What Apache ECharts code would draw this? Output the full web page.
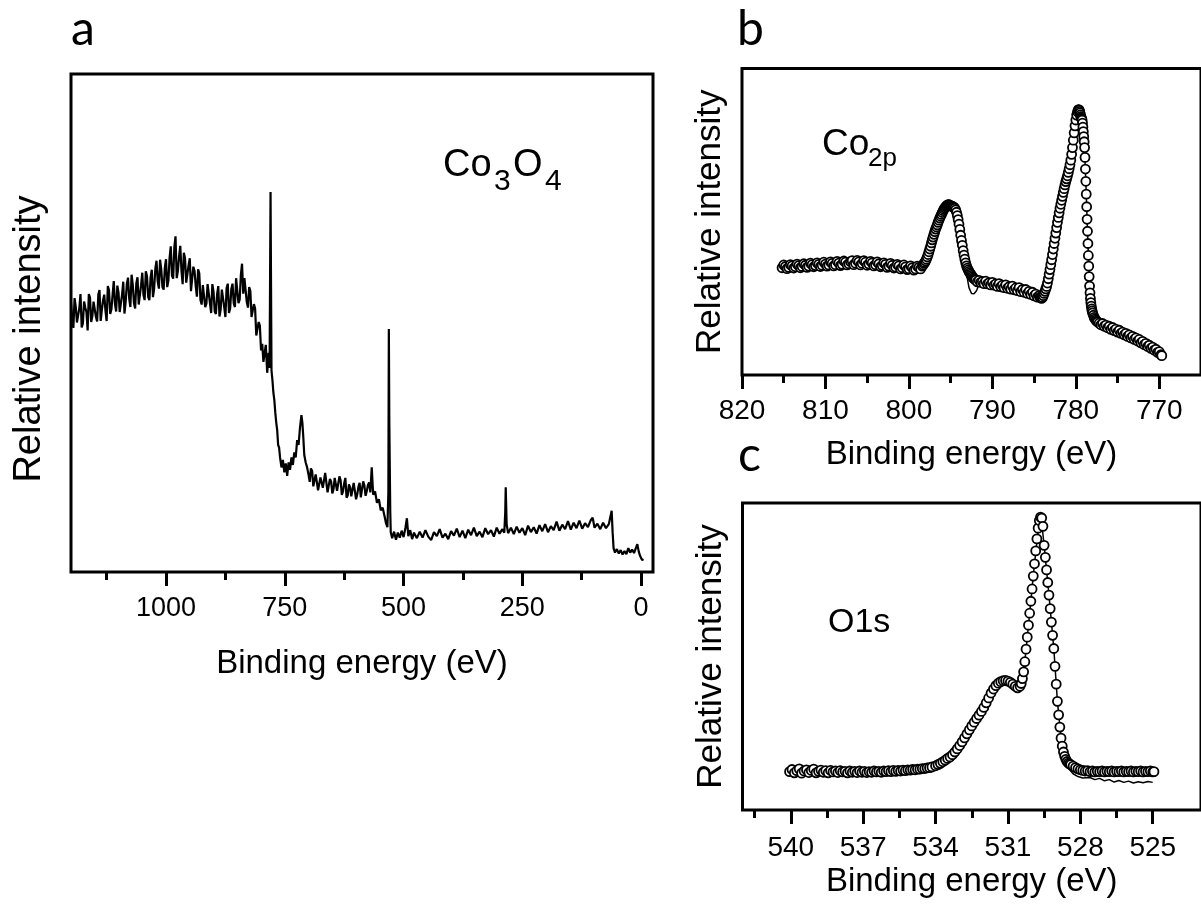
<!DOCTYPE html>
<html>
<head>
<meta charset="utf-8">
<title>Co3O4 XPS</title>
<script src="https://cdn.jsdelivr.net/npm/echarts@6/dist/echarts.min.js"></script>
<style>
  html, body { margin: 0; padding: 0; background: #fff; }
  #chart { width: 1201px; height: 924px; }
</style>
</head>
<body>
<div id="chart"></div>
<script>
// survey spectrum (panel a): [binding energy eV, relative intensity]
const surveyData = [
  [1200,54.1],[1197.5,50.9],[1195,49.0],[1192.5,55.0],[1190,53.3],[1187.5,50.1],[1185,50.4],[1182.5,53.0],[1180,55.8],[1177.5,49.1],
  [1175,49.9],[1172.5,54.3],[1170,53.1],[1167.5,52.2],[1165,48.5],[1162.5,55.8],[1160,55.1],[1157.5,50.2],[1155,51.4],[1152.5,54.3],
  [1150,54.6],[1147.5,51.2],[1145,50.3],[1142.5,55.7],[1140,56.6],[1137.5,50.4],[1135,52.7],[1132.5,54.6],[1130,55.7],[1127.5,52.5],
  [1125,50.4],[1122.5,57.4],[1120,56.6],[1117.5,51.8],[1115,52.7],[1112.5,55.6],[1110,58.4],[1107.5,53.9],[1105,52.3],[1102.5,57.5],
  [1100,56.1],[1097.5,52.2],[1095,52.0],[1092.5,55.7],[1090,58.3],[1087.5,51.9],[1085,54.2],[1082.5,57.8],[1080,59.1],[1077.5,54.9],
  [1075,53.2],[1072.5,59.7],[1070,57.7],[1067.5,54.0],[1065,52.9],[1062.5,58.0],[1060,59.2],[1057.5,53.7],[1055,55.6],[1052.5,57.6],
  [1050,60.1],[1047.5,55.6],[1045,54.6],[1042.5,60.4],[1040,59.4],[1037.5,55.2],[1035,54.6],[1032.5,59.1],[1030,60.7],[1027.5,55.2],
  [1025,56.9],[1022.5,60.9],[1020,62.5],[1017.5,58.3],[1015,56.9],[1012.5,62.7],[1010,60.7],[1007.5,57.2],[1005,56.7],[1002.5,61.1],
  [1000,62.8],[997.5,57.2],[995,58.5],[992.5,63.1],[990,65.4],[987.5,59.5],[985,58.9],[982.5,65.2],[980,67.4],[977.5,59.0],
  [975,60.5],[972.5,63.4],[970,65.5],[967.5,60.5],[965,57.8],[962.5,64.1],[960,63.0],[957.5,58.1],[955,57.8],[952.5,61.6],
  [950,63.0],[947.5,56.4],[945,56.3],[942.5,61.3],[940,60.5],[937.5,57.4],[935,55.3],[932.5,60.8],[930,60.0],[927.5,54.6],
  [925,53.7],[922.5,57.6],[920,57.9],[917.5,53.2],[915,53.9],[912.5,57.8],[910,58.1],[907.5,54.0],[905,52.0],[902.5,57.8],
  [900,56.3],[897.5,52.3],[895,51.8],[892.5,55.8],[890,57.4],[887.5,51.3],[885,52.7],[882.5,56.7],[880,56.3],[877.5,53.2],
  [875,51.2],[872.5,57.0],[870,57.9],[867.5,52.0],[865,52.9],[862.5,56.9],[860,57.9],[857.5,54.0],[855,53.2],[852.5,59.0],
  [850,59.0],[847.5,54.0],[845,54.7],[842.5,59.6],[840,61.9],[837.5,55.9],[835,59.0],[832.5,58.7],[830,54.2],[827.5,53.1],
  [825,57.2],[822.5,56.4],[820,51.2],[817.5,51.2],[815,53.8],[812.5,52.9],[810,47.5],[807.5,47.3],[805,50.2],[802.5,49.5],
  [800,44.5],[797.5,45.8],[795,42.2],[792.5,42.0],[790,45.6],[787,40.0],[784,44.0],[782,41.0],[780,76.3],[778,40.5],
  [776,38.5],[774,36.0],[772,34.5],[770,32.0],[768,30.0],[766,28.5],[764,25.5],[762,25.0],[760,23.0],[757,21.0],
  [754,22.5],[751,20.0],[748,21.8],[745,19.3],[742,22.0],[739,20.5],[736,23.0],[733,21.5],[730,24.0],[727,23.0],
  [724,26.5],[721,25.5],[718,29.0],[715,31.5],[713,30.0],[711,27.0],[709,23.5],[706,22.0],[703,21.0],[700,19.5],
  [697.5,18.1],[695,20.8],[692.5,20.3],[690,17.2],[687.5,16.8],[685,19.6],[682.5,19.4],[680,16.4],[677.5,16.0],[675,19.0],
  [672.5,18.6],[670,16.9],[667.5,17.3],[665,19.9],[662.5,19.5],[660,16.0],[657.5,15.6],[655,18.7],[652.5,18.2],[650,15.8],
  [647.5,16.6],[645,18.9],[642.5,19.0],[640,16.3],[637.5,15.9],[635,19.2],[632.5,18.4],[630,15.5],[627.5,16.2],[625,17.8],
  [622.5,18.9],[620,14.9],[617.5,15.4],[615,17.6],[612.5,17.0],[610,15.2],[607.5,14.8],[605,17.9],[602.5,17.5],[600,14.6],
  [597.5,15.6],[595,17.1],[592.5,17.9],[590,15.0],[587.5,15.1],[585,18.2],[582.5,17.4],[580,15.3],[577.5,16.2],[575,17.5],
  [572.5,18.0],[570,16.0],[567,21.0],[564,15.5],[560,16.2],[556,13.9],[552,14.6],[548,12.4],[544,12.9],[540,11.2],
  [537,9.8],[534,9.0],[532,16.0],[531,48.8],[530,30.0],[528,12.0],[527,8.0],[524,6.8],[520,8.1],[516,6.5],
  [512,7.9],[508,6.9],[504,8.3],[500,7.0],[496,8.9],[493,10.8],[490,7.2],[486,8.4],[482,6.6],[478,7.9],
  [472,6.8],[466,8.1],[460,6.9],[454,8.4],[448,7.1],[442,6.4],[436,8.0],[430,7.2],[424,8.6],[418,6.9],
  [412,7.7],[406,6.6],[400,8.2],[394,7.3],[388,8.7],[382,7.0],[376,8.3],[370,6.8],[364,8.5],[358,7.4],
  [352,8.9],[346,7.2],[340,8.1],[334,7.0],[328,8.8],[322,7.6],[316,8.4],[310,7.1],[304,8.9],[298,7.7],
  [292,8.6],[288,7.9],[286,12.0],[285,17.0],[283,9.5],[280,7.8],[274,8.9],[268,7.6],[262,9.1],[256,7.9],
  [250,8.8],[244,7.4],[238,9.3],[232,8.0],[226,9.0],[220,7.7],[214,9.4],[208,8.2],[202,9.6],[196,8.0],
  [190,9.2],[184,8.4],[178,10.1],[172,8.3],[166,9.5],[160,8.6],[154,10.2],[148,8.5],[142,9.9],[136,8.8],
  [130,10.3],[124,8.7],[118,9.8],[112,9.0],[106,10.4],[102,10.9],[98,8.9],[92,9.7],[86,8.6],[80,9.9],
  [74,8.8],[68,9.6],[64,9.2],[62,12.3],[60,8.0],[58,4.8],[55,3.9],[51,4.6],[47,3.7],[43,4.4],
  [39,3.5],[35,4.2],[31,3.6],[27,4.8],[23,3.9],[19,4.5],[15,3.8],[11,4.0],[8,5.6],[5,4.1],
  [2,3.2],[-2,2.4],[-5,2.6]
];

// Co 2p measured points (panel b)
const co2pData = [
  [815.2,35.0],[815.0,35.9],[814.8,35.4],[814.6,34.7],[814.4,35.1],[814.2,36.0],[814.0,35.6],[813.8,34.9],[813.6,35.3],[813.4,36.2],
  [813.2,35.7],[813.0,35.0],[812.8,35.4],[812.6,36.3],[812.4,35.8],[812.2,35.1],[812.0,35.5],[811.8,36.5],[811.6,36.0],[811.4,35.3],
  [811.2,35.7],[811.0,36.6],[810.8,36.1],[810.6,35.4],[810.4,35.8],[810.2,36.8],[810.0,36.2],[809.8,35.5],[809.6,35.9],[809.4,36.9],
  [809.2,36.4],[809.0,35.6],[808.8,36.0],[808.6,37.1],[808.4,36.5],[808.2,35.7],[808.0,36.1],[807.8,37.2],[807.6,36.8],[807.4,35.9],
  [807.2,36.3],[807.0,37.0],[806.8,37.3],[806.6,36.0],[806.4,36.5],[806.2,37.4],[806.0,36.9],[805.8,35.9],[805.6,36.4],[805.4,37.3],
  [805.2,36.8],[805.0,35.8],[804.8,36.2],[804.6,37.1],[804.4,36.6],[804.2,35.6],[804.0,36.0],[803.8,36.9],[803.6,36.3],[803.4,35.3],
  [803.2,35.7],[803.0,36.6],[802.8,36.1],[802.6,35.1],[802.4,35.5],[802.2,36.4],[802.0,35.8],[801.8,34.9],[801.6,35.2],[801.4,36.1],
  [801.2,35.6],[801.0,34.6],[800.8,35.0],[800.6,35.9],[800.4,35.3],[800.2,34.4],[800.0,34.7],[799.8,35.6],[799.6,35.0],[799.4,34.2],
  [799.2,34.6],[799.0,35.5],[798.8,35.1],[798.6,34.6],[798.4,35.5],
  [798.3,35.9],[798.2,36.4],[798.1,36.7],[798.0,37.2],[797.9,37.8],[797.8,38.5],[797.7,39.3],[797.6,40.2],[797.5,41.1],[797.4,42.0],
  [797.3,43.1],[797.2,44.1],[797.1,45.0],[797.0,45.9],[796.9,46.8],[796.8,47.6],[796.7,48.3],[796.6,49.0],[796.5,49.8],[796.4,50.5],
  [796.3,51.2],[796.2,51.8],[796.1,52.4],[796.0,53.0],[795.9,53.6],[795.8,54.1],[795.7,54.5],[795.6,54.9],[795.5,55.2],[795.4,55.4],
  [795.3,55.6],[795.2,55.6],[795.1,55.4],[795.0,55.2],[794.9,55.1],[794.8,55.0],[794.7,54.9],[794.6,54.7],[794.5,54.4],[794.4,53.9],
  [794.3,53.1],[794.2,52.0],[794.1,50.7],[794.0,49.2],[793.9,47.5],[793.8,45.6],[793.7,43.9],[793.6,42.3],[793.5,40.6],[793.4,39.1],
  [793.3,37.8],[793.2,36.6],[793.1,35.6],[793.0,34.9],[792.9,34.3],[792.8,33.8],[792.7,33.3],[792.6,32.9],[792.5,32.5],[792.4,32.1],
  [792.3,31.7],[792.2,31.4],[792.1,31.2],[792.0,31.0],
  [791.8,30.4],[791.6,30.9],[791.4,30.2],[791.2,30.5],[791.0,29.8],[790.8,30.6],[790.6,29.7],[790.4,30.1],[790.2,29.4],[790.0,30.2],
  [789.8,29.3],[789.6,29.7],[789.4,28.9],[789.2,29.8],[789.0,28.8],[788.8,29.3],[788.6,28.5],[788.4,29.4],[788.2,28.3],[788.0,28.8],
  [787.8,28.0],[787.6,29.0],[787.4,27.8],[787.2,28.4],[787.0,27.5],[786.8,28.5],[786.6,27.2],[786.4,27.9],[786.2,27.0],[786.0,27.9],
  [785.8,26.6],[785.6,27.3],[785.4,26.3],[785.2,27.0],[785.0,25.8],[784.8,26.4],[784.6,25.4],[784.4,25.9],
  [784.3,25.4],[784.2,25.2],[784.1,25.0],[784.0,25.3],[783.9,25.9],[783.8,26.6],[783.7,27.3],[783.6,28.1],[783.5,28.9],[783.4,30.0],
  [783.3,31.4],[783.2,32.9],[783.1,34.4],[783.0,36.0],[782.9,37.6],[782.8,39.3],[782.7,41.1],[782.6,42.9],[782.5,44.6],[782.4,46.3],
  [782.3,48.1],[782.2,49.8],[782.1,51.4],[782.0,52.9],[781.9,54.4],[781.8,55.7],[781.7,57.0],[781.6,58.3],[781.5,59.6],[781.4,60.8],
  [781.3,62.0],[781.2,63.1],[781.1,64.0],[781.0,65.0],[780.9,66.1],[780.8,67.3],[780.7,68.6],[780.6,70.1],[780.5,72.0],[780.4,74.2],
  [780.3,76.6],[780.2,79.0],[780.1,81.3],[780.0,83.2],[779.9,84.8],[779.8,85.9],[779.7,86.5],
  [779.65,86.6],[779.60,86.4],[779.55,86.0],[779.50,85.5],[779.45,84.9],[779.40,84.3],[779.35,83.9],[779.30,83.6],[779.25,83.2],[779.20,82.2],
  [779.15,80.9],[779.10,79.4],[779.05,77.8],[779.00,76.1],[778.95,74.2],[778.90,71.0],[778.85,67.2],[778.80,63.2],[778.75,59.0],[778.70,54.9],
  [778.65,50.8],[778.60,46.9],[778.55,42.9],[778.50,39.0],[778.45,35.5],[778.40,32.1],[778.35,29.0],[778.30,26.8],[778.25,25.0],[778.20,23.6],
  [778.15,22.5],[778.10,21.6],[778.05,20.9],[778.00,20.3],[777.9,19.5],[777.8,18.8],[777.7,18.3],[777.6,17.9],[777.5,17.6],[777.4,17.3],
  [777.2,16.9],[777.0,16.4],[776.8,16.8],[776.6,15.9],[776.4,16.3],[776.2,15.4],[776.0,15.9],[775.8,14.9],[775.6,15.5],[775.4,14.5],
  [775.2,15.0],[775.0,14.0],[774.8,14.6],[774.6,13.6],[774.4,14.0],[774.2,13.1],[774.0,13.6],[773.8,12.6],[773.6,13.1],[773.4,12.1],
  [773.2,12.6],[773.0,11.6],[772.8,12.1],[772.6,11.1],[772.4,11.6],[772.2,10.5],[772.0,11.0],[771.8,9.9],[771.6,10.3],[771.4,9.3],
  [771.2,9.7],[771.0,8.7],[770.8,9.1],[770.6,8.1],[770.4,8.4],[770.2,7.4],[770.0,7.6],[769.8,6.6],[769.7,6.3]
];

// Co 2p fitted envelope (solid line)
const co2pFit = [
  [815.2,35.0],[812.0,35.6],[808.0,36.4],[805.0,36.6],[802.0,35.8],[799.5,34.9],[798.4,35.6],[797.6,40.2],[796.8,47.6],[796.0,53.0],
  [795.3,55.6],[794.6,54.7],[794.2,52.0],[793.8,45.6],[793.4,39.0],[793.1,33.0],[792.8,28.5],[792.5,26.6],[792.2,26.5],[791.9,27.5],
  [791.6,29.5],[791.2,30.0],[788.0,28.5],[785.6,26.9],[784.6,25.4],[784.0,25.3],[783.4,30.0],[782.8,39.3],[782.2,49.8],[781.6,58.3],
  [781.0,65.0],[780.5,72.0],[780.0,83.2],[779.65,86.6],[779.3,83.6],[779.0,76.1],[778.8,63.2],[778.6,46.9],[778.4,32.1],[778.2,23.6],
  [778.0,20.3],[777.4,17.3],[776.0,15.6],[774.0,12.9],[772.0,10.4],[770.0,7.0],[769.7,6.3]
];

// O 1s measured points (panel c)
const o1sData = [
  [540.05,12.5],[539.95,13.2],[539.85,12.1],[539.75,12.8],[539.65,13.4],[539.55,12.0],[539.45,12.7],[539.35,13.1],[539.25,12.2],[539.15,12.9],
  [539.05,13.3],[538.95,12.1],[538.85,12.6],[538.75,13.0],[538.65,12.3],[538.55,12.8],[538.45,12.1],[538.35,12.9],[538.25,12.4],[538.15,12.7],
  [538.05,12.2],[537.95,12.8],[537.85,12.4],[537.75,12.6],[537.65,12.1],[537.55,12.7],[537.45,12.3],[537.35,12.6],[537.25,12.2],[537.15,12.7],
  [537.05,12.3],[536.95,12.6],[536.85,12.2],[536.75,12.5],[536.65,12.3],[536.55,12.7],[536.45,12.4],[536.35,12.6],[536.25,12.3],[536.15,12.7],
  [536.05,12.5],[535.95,12.8],[535.85,12.5],[535.75,12.9],[535.65,12.6],[535.55,12.9],[535.45,12.7],[535.35,13.0],[535.25,12.8],[535.15,13.1],
  [535.05,13.0],[534.95,13.2],[534.85,13.1],[534.75,13.3],[534.65,13.3],[534.55,13.5],[534.45,13.5],[534.35,13.7],[534.25,13.8],[534.15,14.0],
  [534.0,14.4],[533.9,14.8],[533.8,15.2],[533.7,15.7],[533.6,16.2],[533.5,16.8],[533.4,17.3],[533.3,18.0],[533.2,18.9],[533.1,19.9],
  [533.0,21.0],[532.9,22.2],[532.8,23.5],[532.7,24.8],[532.6,26.1],[532.5,27.4],[532.4,28.6],[532.3,29.8],[532.2,30.9],[532.1,32.1],
  [532.0,33.4],[531.9,34.9],[531.8,36.5],[531.7,38.1],[531.6,39.4],[531.5,40.5],[531.4,41.3],[531.3,41.8],[531.2,42.1],[531.1,42.2],
  [531.0,42.0],[530.9,41.6],[530.8,41.0],[530.7,40.3],[530.6,39.8],[530.5,40.3],
  [530.45,41.2],[530.40,42.8],[530.35,45.0],[530.30,48.3],[530.25,52.4],[530.20,56.3],[530.15,60.2],[530.10,64.1],[530.05,68.0],[530.00,72.0],
  [529.95,76.2],[529.90,80.2],[529.85,84.4],[529.80,88.3],[529.75,91.8],[529.70,94.3],[529.65,95.4],[529.60,95.1],[529.55,92.4],[529.50,86.2],
  [529.45,82.3],[529.40,78.2],[529.35,74.1],[529.30,70.0],[529.25,65.6],[529.20,61.2],[529.15,56.9],[529.10,52.6],[529.05,46.8],[529.00,41.0],
  [528.95,35.4],[528.90,31.0],[528.85,27.0],[528.80,23.4],[528.75,20.8],[528.70,18.9],[528.65,17.5],[528.60,16.5],[528.55,15.8],[528.50,15.3],
  [528.45,15.0],[528.4,14.8],[528.3,14.3],[528.2,13.8],[528.1,13.4],[528.0,13.1],[527.9,12.9],[527.8,12.7],[527.7,12.8],[527.6,12.5],
  [527.5,12.7],[527.4,12.4],[527.3,12.6],[527.2,12.5],[527.1,12.7],[527.0,12.4],[526.9,12.6],[526.8,12.5],[526.7,12.7],[526.6,12.4],
  [526.5,12.6],[526.4,12.5],[526.3,12.7],[526.2,12.4],[526.1,12.6],[526.0,12.5],[525.9,12.7],[525.8,12.4],[525.7,12.6],[525.6,12.5],
  [525.5,12.7],[525.4,12.4],[525.3,12.6],[525.2,12.5],[525.1,12.7],[525.0,12.4],[524.95,12.5]
];

// O 1s fitted envelope (solid line)
const o1sFit = [
  [540.0,12.3],[539.8,13.6],[539.6,12.0],[539.4,13.4],[539.2,12.2],[539.0,13.8],[538.8,12.4],[538.6,13.1],[538.3,12.0],[538.0,12.9],
  [537.5,12.3],[537.0,12.6],[536.5,12.4],[536.0,12.8],[535.5,12.8],[535.0,13.1],[534.5,13.6],[534.0,14.4],[533.5,16.8],[533.0,21.0],
  [532.5,27.4],[532.0,33.4],[531.5,40.5],[531.2,42.1],[530.9,41.6],[530.6,39.8],[530.45,41.2],[530.3,48.3],[530.1,64.1],[529.9,80.2],
  [529.7,94.3],[529.63,95.6],[529.5,86.2],[529.3,70.0],[529.1,52.6],[528.95,35.4],[528.8,23.4],[528.65,16.5],[528.5,13.6],[528.3,11.8],
  [528.1,10.9],[527.9,10.4],[527.6,10.6],[527.4,9.9],[527.2,10.3],[527.0,9.5],[526.8,9.9],[526.6,9.1],[526.4,9.6],[526.2,9.0],
  [526.0,9.4],[525.8,8.8],[525.6,9.2],[525.4,8.9],[525.2,9.3],[525.0,9.0]
];

// tick positions
const surveyTicks = [0, 250, 500, 750, 1000];
const surveyMinor = [125, 375, 625, 875, 1125];
const co2pTicks = [770, 780, 790, 800, 810, 820];
const co2pMinor = [775, 785, 795, 805, 815];
const o1sTicks = [525, 528, 531, 534, 537, 540];
const o1sMinor = [526.5, 529.5, 532.5, 535.5, 538.5, 541.5];

const FONT = "'Liberation Sans', Arial, Helvetica, sans-serif";
const chart = echarts.init(document.getElementById('chart'));

const grids = [
    { left: 71, top: 74, width: 582, height: 498 },
    { left: 742, top: 68.5, width: 468, height: 306.5 },
    { left: 742.5, top: 503, width: 470, height: 307 }
];

const mainX = (gridIndex, min, max, ticks, labelSize, labelMargin, nameGap) => ({
    type: 'value', gridIndex, min, max, inverse: true, position: 'bottom',
    axisLine: { show: false },
    axisTick: { show: true, customValues: ticks, length: 14, lineStyle: { color: '#000', width: 3 } },
    axisLabel: {
        show: true, customValues: ticks, margin: labelMargin, color: '#000',
        fontSize: labelSize, fontFamily: FONT, formatter: v => String(v)
    },
    splitLine: { show: false },
    name: 'Binding energy (eV)', nameLocation: 'middle', nameGap,
    nameTextStyle: { color: '#000', fontSize: 33, fontFamily: FONT }
});

const minorX = (gridIndex, min, max, ticks) => ({
    type: 'value', gridIndex, min, max, inverse: true, position: 'bottom',
    axisLine: { show: false },
    axisTick: { show: true, customValues: ticks, length: 8, lineStyle: { color: '#000', width: 3 } },
    axisLabel: { show: false },
    splitLine: { show: false }
});

const yAxis = (gridIndex, nameSize, nameGap, padding) => ({
    type: 'value', gridIndex, min: 0, max: 100,
    axisLine: { show: false }, axisTick: { show: false }, axisLabel: { show: false }, splitLine: { show: false },
    name: 'Relative intensity', nameLocation: 'middle', nameRotate: 90, nameGap,
    nameTextStyle: { color: '#000', fontSize: nameSize, fontFamily: FONT, padding }
});

const txt = (x, y, text, size, family) => ({
    type: 'text', x, y,
    style: { text, fill: '#000', font: size + 'px ' + (family || FONT), verticalAlign: 'middle', align: 'left' }
});

const circles = {
    type: 'scatter', symbol: 'circle', symbolSize: 9, z: 3,
    itemStyle: { color: '#fff', borderColor: '#000', borderWidth: 1.8, opacity: 1 }
};

const option = {
    animation: false,
    backgroundColor: '#fff',
    grid: grids.map(g => Object.assign({ show: true, borderColor: '#000', borderWidth: 3, backgroundColor: 'transparent' }, g)),
    xAxis: [
        mainX(0, -25, 1200, surveyTicks, 27, 23, 75),
        minorX(0, -25, 1200, surveyMinor),
        mainX(1, 765, 820, co2pTicks, 28, 22, 63),
        minorX(1, 765, 820, co2pMinor),
        mainX(2, 523, 542, o1sTicks, 28, 24, 55),
        minorX(2, 523, 542, o1sMinor)
    ],
    yAxis: [yAxis(0, 38, 22, [0, 32, 0, 0]), yAxis(1, 35, 14, 0), yAxis(2, 35, 14, 0)],
    series: [
        {
            type: 'line', xAxisIndex: 0, yAxisIndex: 0, data: surveyData,
            showSymbol: false, lineStyle: { color: '#000', width: 2.2 }
        },
        {
            type: 'line', xAxisIndex: 2, yAxisIndex: 1, data: co2pFit, z: 2,
            showSymbol: false, lineStyle: { color: '#000', width: 1.5 }
        },
        Object.assign({ xAxisIndex: 2, yAxisIndex: 1, data: co2pData }, circles),
        {
            type: 'line', xAxisIndex: 4, yAxisIndex: 2, data: o1sFit, z: 2,
            showSymbol: false, lineStyle: { color: '#000', width: 1.5 }
        },
        Object.assign({ xAxisIndex: 4, yAxisIndex: 2, data: o1sData }, circles)
    ],
    graphic: [
        txt(71, 30, 'a', 48, 'Lato, sans-serif'),
        txt(737, 30, 'b', 48, 'Lato, sans-serif'),
        txt(738, 456, 'c', 48, 'Lato, sans-serif'),
        // Co3O4 label
        txt(443, 166, 'Co', 38),
        txt(494, 182, '3', 30),
        txt(513, 166, 'O', 38),
        txt(545, 182, '4', 30),
        // Co2p label
        txt(822, 145, 'Co', 37),
        txt(868, 159, '2p', 26),
        // O1s label
        txt(828, 623, 'O1s', 34)
    ]
};

chart.setOption(option);
</script>
</body>
</html>
